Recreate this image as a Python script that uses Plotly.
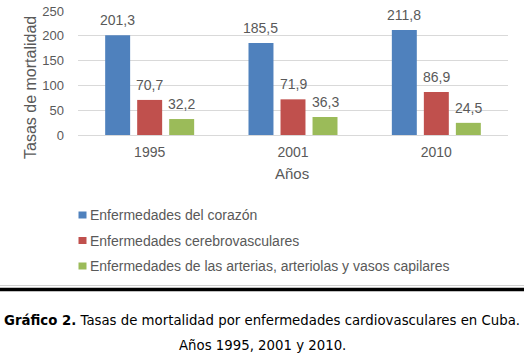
import plotly.graph_objects as go

years = ["1995", "2001", "2010"]
series_names = [
    "Enfermedades del corazón",
    "Enfermedades cerebrovasculares",
    "Enfermedades de las arterias, arteriolas y vasos capilares",
]
corazon = [201.3, 185.5, 211.8]
cerebro = [70.7, 71.9, 86.9]
arterias = [32.2, 36.3, 24.5]
series_values = [corazon, cerebro, arterias]
colors = ["#4F81BD", "#C0504D", "#9BBB59"]
y_ticks = [0, 50, 100, 150, 200, 250]
y_title = "Tasas de mortalidad"
x_title = "Años"
caption_1 = "<b>Gráfico 2.</b> Tasas de mortalidad por enfermedades cardiovasculares en Cuba."
caption_2 = "Años 1995, 2001 y 2010."

W, H = 524, 354
L, R, T, B = 78, 16, 11, 219
PW, PH = W - L - R, H - T - B
BARGAP = 0.33
GROUPGAP = 0.22
TXT = "#595959"
FONT = "Liberation Sans, Arial, sans-serif"


def px_x(px):
    return (px - L) / PW


def px_y(py):
    return (H - B - py) / PH


fig = go.Figure()
for name, vals, col in zip(series_names, series_values, colors):
    fig.add_trace(go.Bar(x=years, y=vals, name=name, marker_color=col,
                         marker_line_width=0, showlegend=False))

annotations = []
shapes = []
# data labels
slot = (1 - BARGAP) / len(series_values)
for i, vals in enumerate(series_values):
    off = (i - (len(series_values) - 1) / 2) * slot
    for j, v in enumerate(vals):
        annotations.append(dict(
            x=j + off, y=v, xref="x", yref="y", text=f"{v:.1f}".replace(".", ","),
            showarrow=False, xanchor="center", yanchor="bottom", yshift=5,
            font=dict(size=14, color=TXT, family=FONT)))

# axis titles
annotations.append(dict(x=px_x(30), y=px_y(88), xref="paper", yref="paper", text=y_title,
                        xanchor="center", yanchor="middle",
                        textangle=-90, showarrow=False, font=dict(size=16, color=TXT, family=FONT)))
annotations.append(dict(x=px_x(292), y=px_y(173), xref="paper", yref="paper", text=x_title,
                        xanchor="center", yanchor="middle",
                        showarrow=False, font=dict(size=15, color=TXT, family=FONT)))

# legend
leg_y = [215, 240.5, 266]
for name, col, yy in zip(series_names, colors, leg_y):
    shapes.append(dict(type="rect", xref="paper", yref="paper",
                       x0=px_x(78.5), x1=px_x(86.5), y0=px_y(yy - 3.5), y1=px_y(yy + 3.5),
                       fillcolor=col, line_width=0))
    annotations.append(dict(x=px_x(88), y=px_y(yy), xref="paper", yref="paper", text=name,
                            showarrow=False, xanchor="left", yanchor="middle",
                            font=dict(size=14, color=TXT, family=FONT)))

# frame lines
shapes.append(dict(type="line", xref="paper", yref="paper", x0=px_x(0), x1=px_x(W),
                   y0=px_y(285.5), y1=px_y(285.5), line=dict(color="#D0D0D0", width=1)))
shapes.append(dict(type="line", xref="paper", yref="paper", x0=px_x(0), x1=px_x(W),
                   y0=px_y(289.5), y1=px_y(289.5), line=dict(color="#000000", width=3.5)))

# caption
CAP = "DejaVu Sans, Verdana, sans-serif"
annotations.append(dict(x=px_x(262), y=px_y(320), xref="paper", yref="paper", text=caption_1,
                        xanchor="center", yanchor="middle",
                        showarrow=False, font=dict(size=13.3, color="#000000", family=CAP)))
annotations.append(dict(x=px_x(262), y=px_y(345), xref="paper", yref="paper", text=caption_2,
                        xanchor="center", yanchor="middle",
                        showarrow=False, font=dict(size=13.3, color="#000000", family=CAP)))

fig.update_layout(
    width=W, height=H, margin=dict(l=L, r=R, t=T, b=B, autoexpand=False),
    paper_bgcolor="white", plot_bgcolor="white",
    barmode="group", bargap=BARGAP, bargroupgap=GROUPGAP,
    showlegend=False, annotations=annotations, shapes=shapes,
    font=dict(family=FONT, color=TXT),
)
fig.update_yaxes(range=[0, 250], tickvals=y_ticks, showgrid=True, gridcolor="#D9D9D9",
                 gridwidth=1, zeroline=False, showline=False, automargin=False,
                 tickfont=dict(size=13, color=TXT, family=FONT), ticklabelstandoff=13)
fig.update_xaxes(showline=True, linecolor="#D9D9D9", linewidth=1, showgrid=False,
                 automargin=False,
                 tickfont=dict(size=14, color=TXT, family=FONT), ticklabelstandoff=4)

fig.write_html("out.html")
